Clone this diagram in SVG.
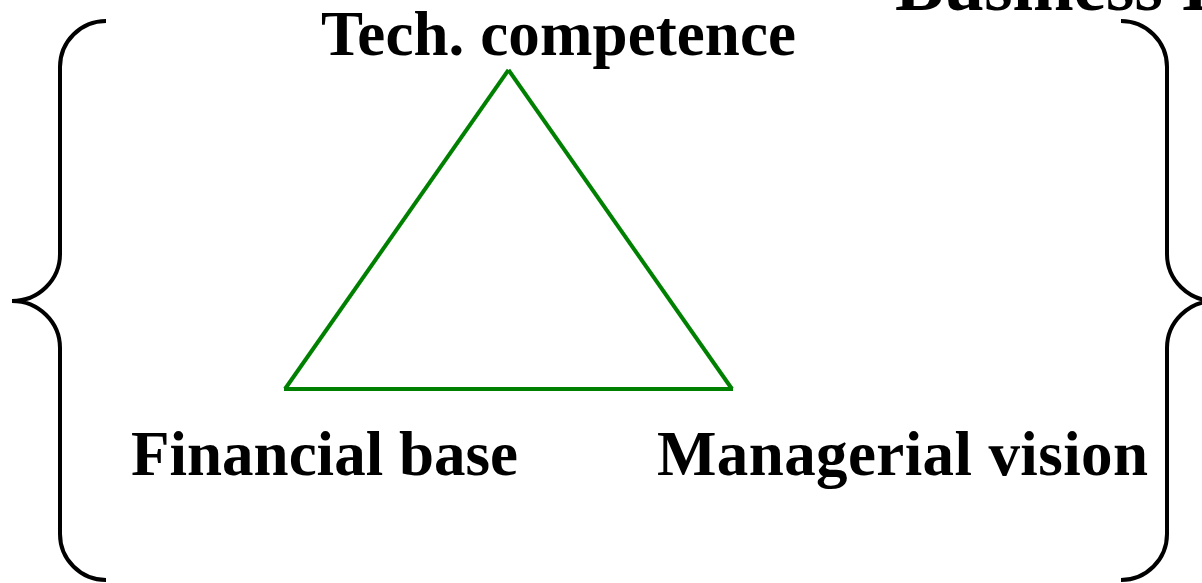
<svg xmlns="http://www.w3.org/2000/svg" width="1202" height="583" viewBox="0 0 1202 583">
  <style>
    .lbl { font-family: "Liberation Serif", "Times New Roman", serif; font-weight: bold; font-size: 63px; fill: #000; }
    .brace { fill: none; stroke: #000; stroke-width: 4; }
    .edge { fill: none; stroke: #008000; stroke-width: 4; stroke-linecap: butt; }
  </style>
  <rect width="1202" height="583" fill="#fff"/>
  <g id="braces">
    <path class="brace" d="M106,21 A46,46 0 0 0 60,67 L60,254 A48,47 0 0 1 12,301 A48,47 0 0 1 60,348 L60,534 A46,46 0 0 0 106,580"/>
    <path class="brace" d="M1121,21 A46,46 0 0 1 1167,67 L1167,254 A48,47 0 0 0 1215,301 A48,47 0 0 0 1167,348 L1167,534 A46,46 0 0 1 1121,580"/>
  </g>
  <g id="connectors">
    <line class="edge" x1="508.5" y1="70" x2="285" y2="389"/>
    <line class="edge" x1="508.5" y1="70" x2="732" y2="389"/>
    <line class="edge" x1="284" y1="389" x2="733" y2="389"/>
  </g>
  <g id="node-business">
    <text class="lbl" x="895" y="10" style="font-size:73px">Business I</text>
  </g>
  <g id="node-tech">
    <text class="lbl" x="321" y="55" textLength="475">Tech. competence</text>
  </g>
  <g id="node-financial">
    <text class="lbl" x="131" y="475" textLength="387">Financial base</text>
  </g>
  <g id="node-managerial">
    <text class="lbl" x="657" y="475" textLength="491">Managerial vision</text>
  </g>
</svg>
